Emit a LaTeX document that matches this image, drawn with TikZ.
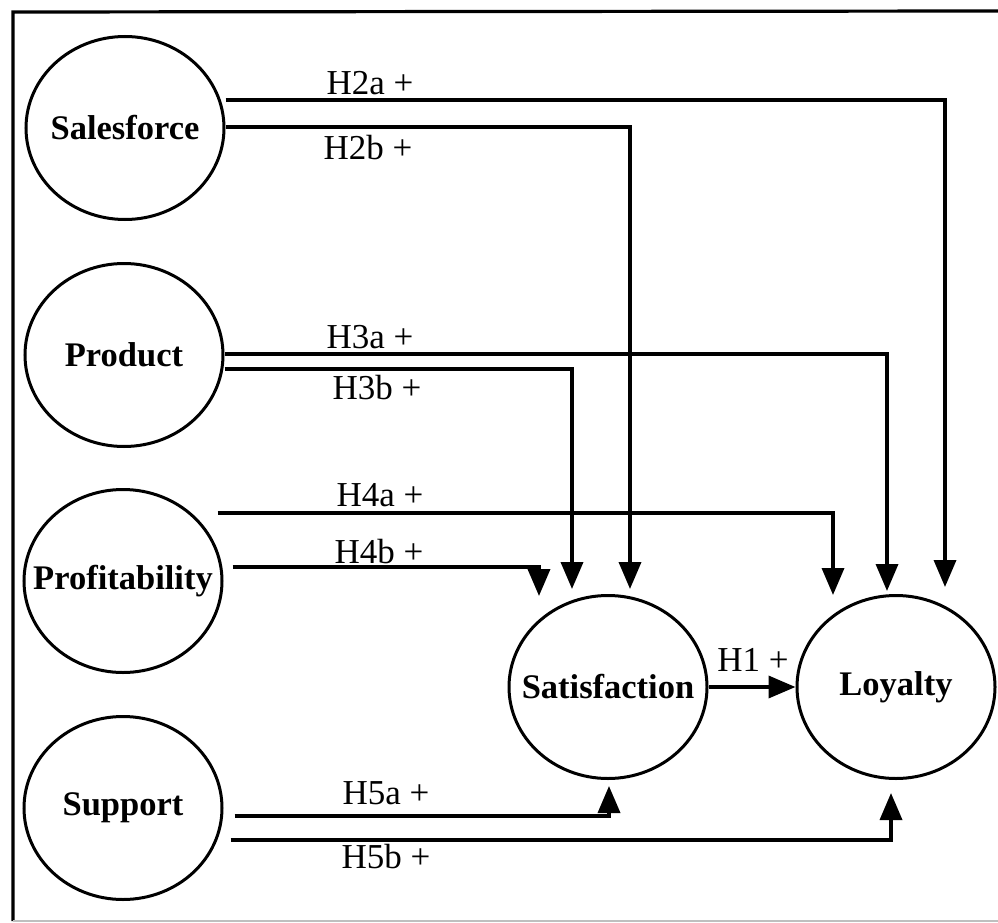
\documentclass[tikz,border=0pt]{standalone}
\usepackage{fontspec}
\setmainfont{Liberation Serif}
\usetikzlibrary{arrows.meta,shapes.geometric}
% a label that takes no width, so every construct keeps the same outline
\newcommand{\cname}[1]{\makebox[0pt]{#1}}
\begin{document}
\begin{tikzpicture}[x=1pt,y=-1pt,
  construct/.style={ellipse,draw,line width=3pt,minimum width=198pt,minimum height=183pt,
    inner sep=0pt,font=\fontsize{34.5}{40}\selectfont\bfseries},
  path/.style={draw,line width=3.6pt,-{Triangle[length=27pt,width=22pt]}},
  hyp/.style={font=\fontsize{35}{40}\selectfont,inner sep=0pt}]
\useasboundingbox (0,0) rectangle (998,923);
% frame
\draw[line width=3.2pt] (998,11) -- (13,12) -- (13,921);
\draw[line width=2pt,black!25] (13,921) -- (998,921);

% constructs
\node[construct] (sf)  at (125,128) {\cname{Salesforce}};
\node[construct] (pr)  at (124,355) {\cname{Product}};
\node[construct] (pf)  at (123,581) {\cname{Profitability}};
\node[construct] (sp)  at (123,808) {\cname{Support}};
\node[construct] (sat) at (608,687) {\cname{Satisfaction}};
\node[construct] (loy) at (896,687) {\cname{Loyalty}};

% hypothesised paths
\draw[path] ([yshift=28pt]sf.east) -| ([xshift=49pt,yshift=7pt]loy.north);
\draw[path] ([yshift=1pt]sf.east) -| ([xshift=22pt,yshift=5pt]sat.north);
\draw[path] ([yshift=1pt]pr.east) -| ([xshift=-9pt,yshift=3pt]loy.north);
\draw[path] ([yshift=-14pt]pr.east) -| ([xshift=-36pt,yshift=5pt]sat.north);
\draw[path] ([xshift=-6pt,yshift=68pt]pf.east) -| ([xshift=-63pt,yshift=-1pt]loy.north);
\draw[path] ([xshift=9pt,yshift=14pt]pf.east) -| ([xshift=-69pt,yshift=-2pt]sat.north);
\draw[path] ([xshift=11pt,yshift=-8pt]sp.east) -| ([xshift=1pt,yshift=-6pt]sat.south);
\draw[path] ([xshift=7pt,yshift=-32pt]sp.east) -| ([xshift=-5pt,yshift=-13pt]loy.south);
\draw[path] (sat.east) -- (loy.west);

% labels
\node[hyp] (l2a) at (370,83)  {H2a +};
\node[hyp] (l2b) at (368,148) {H2b +};
\node[hyp] (l3a) at (370,337) {H3a +};
\node[hyp] (l3b) at (377,388) {H3b +};
\node[hyp] (l4a) at (380,495) {H4a +};
\node[hyp] (l4b) at (379,552) {H4b +};
\node[hyp] (l5a) at (386,793) {H5a +};
\node[hyp] (l5b) at (386,857) {H5b +};
\node[hyp] (l1)  at (753,660) {H1 +};
\end{tikzpicture}
\end{document}
